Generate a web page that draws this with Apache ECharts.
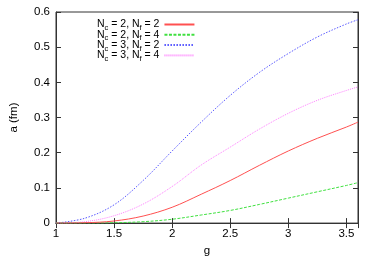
<!DOCTYPE html>
<html><head><meta charset="utf-8">
<script src="https://cdn.jsdelivr.net/npm/echarts@6/dist/echarts.min.js"></script>
<style>html,body{margin:0;padding:0;background:#fff}#c{width:374px;height:262px}</style>
</head><body><div id="c"></div>
<script>
const gValues = [1, 1.25, 1.5, 1.75, 2, 2.25, 2.5, 2.75, 3, 3.25, 3.5, 3.6];
const nc2nf2 = [0, 0.001, 0.006, 0.02, 0.045, 0.082, 0.121, 0.164, 0.205, 0.241, 0.273, 0.287];
const nc2nf4 = [0, 0, 0.001, 0.004, 0.011, 0.023, 0.036, 0.053, 0.071, 0.089, 0.107, 0.115];
const nc3nf2 = [0, 0.014, 0.052, 0.121, 0.205, 0.287, 0.363, 0.428, 0.482, 0.529, 0.566, 0.578];
const nc3nf4 = [0, 0.004, 0.021, 0.054, 0.104, 0.165, 0.216, 0.267, 0.312, 0.349, 0.377, 0.387];
const seriesNames = ['Nc = 2, Nf = 2', 'Nc = 2, Nf = 4', 'Nc = 3, Nf = 2', 'Nc = 3, Nf = 4'];
const seriesLabels = [
  '{n|N}{s|c}{n| = 2, N}{s|f}{n| = 2}',
  '{n|N}{s|c}{n| = 2, N}{s|f}{n| = 4}',
  '{n|N}{s|c}{n| = 3, N}{s|f}{n| = 2}',
  '{n|N}{s|c}{n| = 3, N}{s|f}{n| = 4}'
];
const xTicks = [1, 1.5, 2, 2.5, 3, 3.5];
const yTicks = [0, 0.1, 0.2, 0.3, 0.4, 0.5, 0.6];

const font = 'Liberation Sans, Arial, sans-serif';
const axisCol = '#333';
function pairs(ys){ return gValues.map((g,i)=>[g, ys[i]]); }
const chart = echarts.init(document.getElementById('c'), null, {renderer:'canvas'});
const styles = [
  {color:'#ff5050', type:'solid'},
  {color:'#40e040', type:[3,1.5]},
  {color:'#5858ff', type:[1.5,1.5]},
  {color:'#ff80ff', type:[1,1]}
];
const dataSets = [nc2nf2, nc2nf4, nc3nf2, nc3nf4];
const common = {min:1, max:3.6, interval:0.5};
chart.setOption({
  animation:false,
  grid:{left:54, right:16, top:12, bottom:31, show:true, borderColor:axisCol, borderWidth:1},
  legend:{
    orient:'vertical', left:92, top:14, align:'right', itemWidth:30, itemHeight:10, itemGap:-2.7,
    data:seriesNames,
    itemStyle:{opacity:0},
    formatter:function(name){ return seriesLabels[seriesNames.indexOf(name)]; },
    textStyle:{fontFamily:font, fontSize:10.5, color:'#000',
      rich:{
        n:{fontFamily:font, fontSize:10.5, lineHeight:15, color:'#000'},
        s:{fontFamily:font, fontSize:7.5, lineHeight:8, verticalAlign:'bottom', color:'#000'}
      }}
  },
  xAxis:[{
    type:'value', ...common, position:'bottom',
    axisLine:{show:true, lineStyle:{color:axisCol}},
    axisTick:{inside:true, length:5, lineStyle:{color:axisCol}},
    splitLine:{show:false},
    axisLabel:{color:'#000', fontFamily:font, fontSize:11.5, margin:5, showMaxLabel:false,
      formatter:function(v){ return xTicks.indexOf(+v.toFixed(2))>=0 ? String(+v.toFixed(2)) : ''; }},
    name:'g', nameLocation:'middle', nameGap:19, nameTextStyle:{color:'#000', fontFamily:font, fontSize:11.5}
  },{
    type:'value', ...common, position:'top',
    axisLine:{show:true, lineStyle:{color:axisCol}},
    axisTick:{inside:true, length:5, lineStyle:{color:axisCol}},
    axisLabel:{show:false}, splitLine:{show:false}
  }],
  yAxis:[{
    type:'value', min:0, max:0.6, interval:0.1, position:'left',
    axisLine:{show:true, lineStyle:{color:axisCol}},
    axisTick:{inside:true, length:5, lineStyle:{color:axisCol}},
    splitLine:{show:false},
    axisLabel:{color:'#000', fontFamily:font, fontSize:11.5, margin:6,
      formatter:function(v){ return String(+v.toFixed(2)); }},
    name:'a (fm)', nameLocation:'middle', nameGap:36, nameTextStyle:{color:'#000', fontFamily:font, fontSize:11.5}
  },{
    type:'value', min:0, max:0.6, interval:0.1, position:'right',
    axisLine:{show:true, lineStyle:{color:axisCol}},
    axisTick:{inside:true, length:5, lineStyle:{color:axisCol}},
    axisLabel:{show:false}, splitLine:{show:false}
  }],
  series: dataSets.map((d,i)=>({
    name:seriesNames[i], type:'line', data:pairs(d), smooth:0.35, showSymbol:false, symbol:'none',
    xAxisIndex:0, yAxisIndex:0, z: 10 - i,
    lineStyle:{color:styles[i].color, width:1, type:styles[i].type},
    itemStyle:{color:styles[i].color}
  }))
});
</script></body></html>
